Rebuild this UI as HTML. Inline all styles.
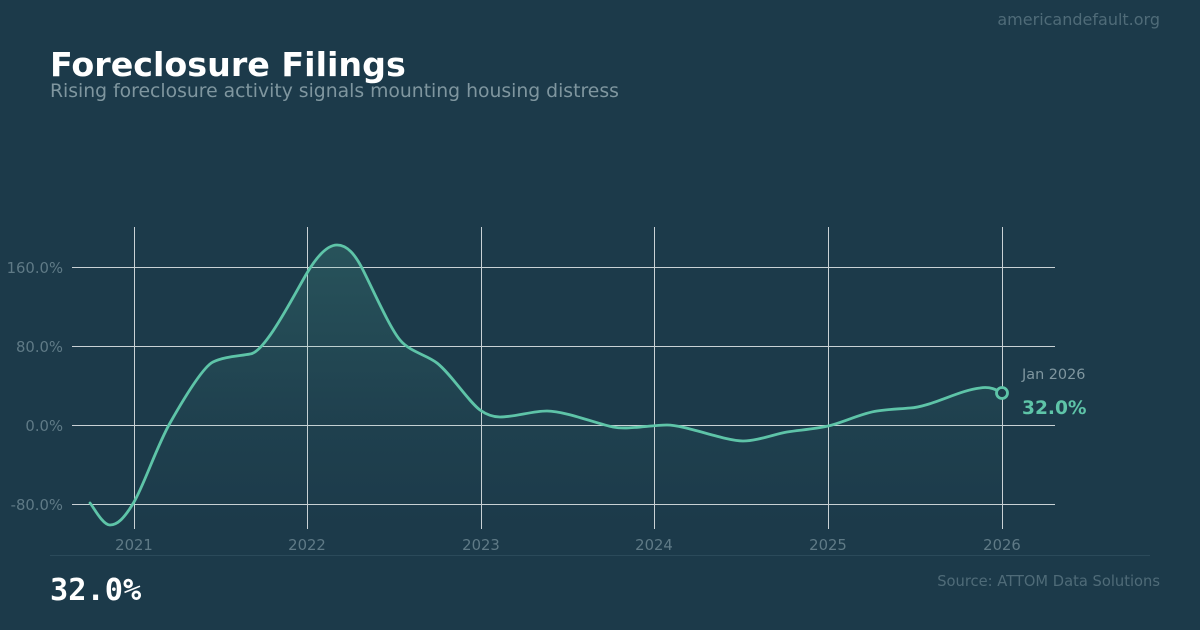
<!DOCTYPE html>
<html>
<head>
<meta charset="utf-8">
<style>
  html,body{margin:0;padding:0;background:#1c3a4a;}
  body{width:1200px;height:630px;overflow:hidden;font-family:"DejaVu Sans","Liberation Sans",sans-serif;}
  svg{display:block;}
</style>
</head>
<body>
<svg width="1200" height="630" viewBox="0 0 1200 630" xmlns="http://www.w3.org/2000/svg">
  <defs>
    <linearGradient id="fillg" gradientUnits="userSpaceOnUse" x1="0" y1="245" x2="0" y2="528">
      <stop offset="0" stop-color="#5ec4a8" stop-opacity="0.18"/>
      <stop offset="0.6" stop-color="#5ec4a8" stop-opacity="0.05"/>
      <stop offset="1" stop-color="#5ec4a8" stop-opacity="0"/>
    </linearGradient>
  </defs>
  <rect x="0" y="0" width="1200" height="630" fill="#1c3a4a"/>

  <!-- header -->
  <text x="50" y="76" font-family="DejaVu Sans, Liberation Sans, sans-serif" font-weight="bold" font-size="33.3" fill="#ffffff">Foreclosure Filings</text>
  <text x="50" y="97" font-family="DejaVu Sans, Liberation Sans, sans-serif" font-size="18.8" fill="#7f969f">Rising foreclosure activity signals mounting housing distress</text>
  <text x="1160" y="25" text-anchor="end" font-family="DejaVu Sans, Liberation Sans, sans-serif" font-size="16" fill="#4f6b78">americandefault.org</text>

  <!-- grid -->
  <g stroke="#c9d1d5" stroke-width="1" shape-rendering="crispEdges">
    <line x1="72" y1="267.5" x2="1055" y2="267.5"/>
    <line x1="72" y1="346.5" x2="1055" y2="346.5"/>
    <line x1="72" y1="425.5" x2="1055" y2="425.5"/>
    <line x1="72" y1="504.5" x2="1055" y2="504.5"/>
    <line x1="134.5" y1="227" x2="134.5" y2="529"/>
    <line x1="307.5" y1="227" x2="307.5" y2="529"/>
    <line x1="481.5" y1="227" x2="481.5" y2="529"/>
    <line x1="654.5" y1="227" x2="654.5" y2="529"/>
    <line x1="828.5" y1="227" x2="828.5" y2="529"/>
    <line x1="1002.5" y1="227" x2="1002.5" y2="529"/>
  </g>

  <!-- y tick labels -->
  <g font-family="DejaVu Sans, Liberation Sans, sans-serif" font-size="14.8" fill="#5f7a86" text-anchor="end">
    <text x="63" y="273">160.0%</text>
    <text x="63" y="352">80.0%</text>
    <text x="63" y="431">0.0%</text>
    <text x="63" y="510">-80.0%</text>
  </g>
  <!-- x tick labels -->
  <g font-family="DejaVu Sans, Liberation Sans, sans-serif" font-size="14.8" fill="#5f7a86" text-anchor="middle">
    <text x="134" y="550">2021</text>
    <text x="307" y="550">2022</text>
    <text x="481" y="550">2023</text>
    <text x="654" y="550">2024</text>
    <text x="828" y="550">2025</text>
    <text x="1002" y="550">2026</text>
  </g>

  <!-- area fill -->
  <path fill="url(#fillg)" d="M90,503 C93.3,506.7 102.7,525.2 110,525 C117.3,524.8 124,519 134,502 C144,485 156.8,446.3 170,423 C183.2,399.7 203,367 213,362 C224,356.5 240,356 250,354 C265,353 295,293 307,273 C317,256.3 327,245 337,245 C347,245 355,254 363,270 C375,294 390,328 400,340 C410,352 427,355 437,363 C451,374 468,401 480,410 C487,415 494,417 500,417 C515,417 532,411 547,411 C565,411 598,424 613,427 C628,430 650,425 667,425 C685,425 725,441 743,441 C757,441 775,434 787,432 C800,430 815,429 828,426 C842,423 862,413 877,411 C890,409 900,409 910,408 C930,407 960,390 980,388 C990,386 997,390 1002,393 L1002,528 L90,528 Z"/>

  <!-- line -->
  <path fill="none" stroke="#5ec4a8" stroke-width="2.8" stroke-linejoin="round" stroke-linecap="round" d="M90,503 C93.3,506.7 102.7,525.2 110,525 C117.3,524.8 124,519 134,502 C144,485 156.8,446.3 170,423 C183.2,399.7 203,367 213,362 C224,356.5 240,356 250,354 C265,353 295,293 307,273 C317,256.3 327,245 337,245 C347,245 355,254 363,270 C375,294 390,328 400,340 C410,352 427,355 437,363 C451,374 468,401 480,410 C487,415 494,417 500,417 C515,417 532,411 547,411 C565,411 598,424 613,427 C628,430 650,425 667,425 C685,425 725,441 743,441 C757,441 775,434 787,432 C800,430 815,429 828,426 C842,423 862,413 877,411 C890,409 900,409 910,408 C930,407 960,390 980,388 C990,386 997,390 1002,393"/>

  <!-- end marker -->
  <circle cx="1002" cy="393" r="5.5" fill="#1c3a4a" stroke="#5ec4a8" stroke-width="2.8"/>
  <text x="1022" y="379" font-family="DejaVu Sans, Liberation Sans, sans-serif" font-size="14.4" fill="#7f969f">Jan 2026</text>
  <text x="1022" y="414" font-family="DejaVu Sans, Liberation Sans, sans-serif" font-weight="bold" font-size="18.6" fill="#5ec4a8">32.0%</text>

  <!-- footer -->
  <line x1="50" y1="555.5" x2="1150" y2="555.5" stroke="#2b4a5a" stroke-width="1" shape-rendering="crispEdges"/>
  <text x="50" y="600" font-family="DejaVu Sans Mono, Liberation Mono, monospace" font-weight="bold" font-size="30.3" fill="#ffffff">32.0%</text>
  <text x="1160" y="586" text-anchor="end" font-family="DejaVu Sans, Liberation Sans, sans-serif" font-size="14.7" fill="#4f6b78">Source: ATTOM Data Solutions</text>
</svg>
</body>
</html>
